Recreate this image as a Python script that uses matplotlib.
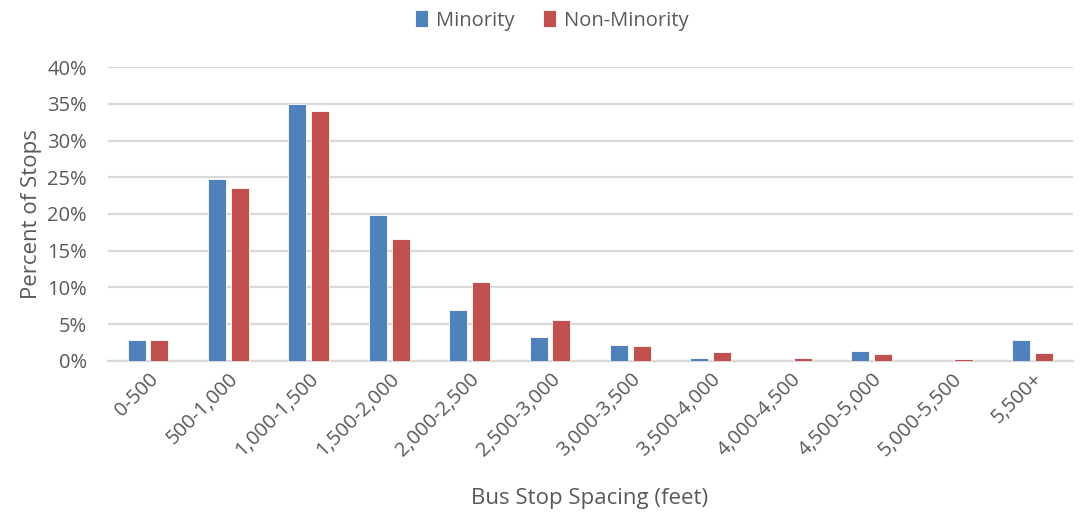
import numpy as np
import matplotlib
matplotlib.use("Agg")
import matplotlib.pyplot as plt
from matplotlib.ticker import PercentFormatter

# ── data ─────────────────────────────────────────────────────────────────────
categories = ["0-500", "500-1,000", "1,000-1,500", "1,500-2,000", "2,000-2,500",
              "2,500-3,000", "3,000-3,500", "3,500-4,000", "4,000-4,500",
              "4,500-5,000", "5,000-5,500", "5,500+"]
minority = [2.8, 24.8, 35.0, 19.9, 6.9, 3.3, 2.2, 0.4, 0.0, 1.4, 0.0, 2.8]
non_minority = [2.9, 23.6, 34.0, 16.6, 10.8, 5.6, 2.0, 1.2, 0.4, 0.9, 0.2, 1.1]

# ── style ────────────────────────────────────────────────────────────────────
BLUE = "#4F81BD"
RED = "#C0504D"
GRID = "#D9D9D9"
TXT = "#595959"
plt.rcParams["font.family"] = ["Open Sans", "DejaVu Sans"]

fig = plt.figure(figsize=(10.89, 5.20), dpi=100)
ax = fig.add_axes([0.099, 0.306, 0.886, 0.565])

x = np.arange(len(categories))
bw = 0.225
off = 0.142
ax.bar(x - off, minority, bw, color=BLUE, edgecolor="white", lw=0.6,
       label="Minority", zorder=3)
ax.bar(x + off, non_minority, bw, color=RED, edgecolor="white", lw=0.6,
       label="Non-Minority", zorder=3)

ax.set_xlim(-0.5, len(categories) - 0.5)
ax.set_ylim(0, 40)
ax.set_yticks(np.arange(0, 41, 5))
ax.yaxis.set_major_formatter(PercentFormatter(decimals=0))
ax.grid(axis="y", color=GRID, lw=1.6, zorder=0)
for s in ["top", "right", "left"]:
    ax.spines[s].set_visible(False)
ax.spines["bottom"].set_color(GRID)
ax.spines["bottom"].set_linewidth(1.6)

ax.set_xticks(x)
ax.set_xticklabels(categories, rotation=45, ha="right", rotation_mode="anchor")
ax.tick_params(axis="both", length=0, labelsize=14.5, colors=TXT)
ax.tick_params(axis="x", pad=6)
ax.tick_params(axis="y", pad=15)

ax.set_ylabel("Percent of Stops", fontsize=16, color=TXT, labelpad=4)
fig.text(0.541, 0.042, "Bus Stop Spacing (feet)", ha="center", va="center",
         fontsize=16, color=TXT)

fig.legend(loc="upper center", bbox_to_anchor=(0.507, 1.015), ncol=2,
           frameon=False, fontsize=14.5, handlelength=0.65, handleheight=0.9,
           handletextpad=0.4, columnspacing=1.4, labelcolor=TXT)

fig.savefig("out.png", dpi=100, facecolor="white")
